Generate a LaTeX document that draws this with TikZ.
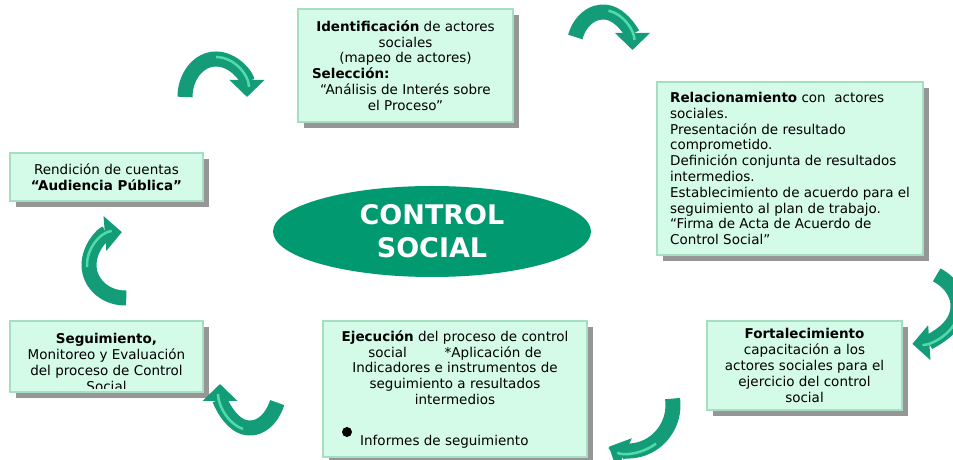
\documentclass[tikz,border=0pt]{standalone}
\usepackage{fontspec}
\setmainfont{DejaVu Sans}
\usetikzlibrary{arrows.meta,shapes.geometric,shadows}
\definecolor{boxfill}{RGB}{212,250,232}
\definecolor{boxline}{RGB}{165,222,195}
\definecolor{shadowgray}{RGB}{150,150,150}
\definecolor{ellgreen}{RGB}{0,153,112}
\definecolor{arrgreen}{RGB}{20,156,120}
\definecolor{arrlight}{RGB}{80,220,170}
\tikzset{
  box/.style={draw=boxline, line width=1.5pt, fill=boxfill, inner sep=0pt,
    general shadow={fill=shadowgray, shadow xshift=6pt, shadow yshift=-6pt},
    font=\fontsize{13.5}{15.8}\selectfont},
  boxtext/.style={inner sep=0pt, font=\fontsize{13.5}{15.8}\selectfont},
  band/.style={draw=arrgreen, line width=15pt, -{Triangle[length=17pt,width=34pt]}},
  bandhl/.style={draw=arrlight, line width=2.5pt, shorten >=10pt},
}
\newcommand\greenarrow[6]{%
  \pgfmathsetmacro\gaxs{#1+#3*cos(#5)}%
  \pgfmathsetmacro\gays{#2+#4*sin(#5)}%
  \pgfmathsetmacro\gamid{(#5+#6)/2}%
  \pgfmathsetmacro\garx{#3+2}%
  \pgfmathsetmacro\gary{#4+2}%
  \pgfmathsetmacro\gaxm{#1+\garx*cos(\gamid)}%
  \pgfmathsetmacro\gaym{#2+\gary*sin(\gamid)}%
  \draw[band] (\gaxs,\gays) arc[start angle=#5,end angle=#6,x radius=#3,y radius=#4];
  \draw[bandhl] (\gaxm,\gaym) arc[start angle=\gamid,end angle=#6,x radius=\garx,y radius=\gary];
}
\begin{document}
\begin{tikzpicture}[x=1pt,y=1pt]
\useasboundingbox (0,0) rectangle (953,460);
\fill[white] (0,0) rectangle (953,460);

\node[box, minimum width=215, minimum height=113, align=center] (b1) at (405.5,394.5)
  {\textbf{Identificación} de actores\\ sociales\\ (mapeo de actores)\\
   \makebox[187pt][l]{\textbf{Selección:}}\\ “Análisis de Interés sobre\\ el Proceso”};

\node[box, minimum width=266, minimum height=173, align=left] (b2) at (790,291.5)
  {\textbf{Relacionamiento} con\ \ actores\\ sociales.\\ Presentación de resultado\\
   comprometido.\\ Definición conjunta de resultados\\ intermedios.\\
   Establecimiento de acuerdo para el\\ seguimiento al plan de trabajo.\\
   “Firma de Acta de Acuerdo de\\ Control Social”};

\node[box, minimum width=193, minimum height=48, align=center] (b3) at (106.5,283)
  {Rendición de cuentas\\ \textbf{“Audiencia Pública”}};

\node[box, minimum width=193, minimum height=71] (b4) at (106.5,103.5) {};
\begin{scope}
  \clip ([yshift=4]b4.south west) rectangle (b4.north east);
  \node[boxtext, align=center, anchor=north] (t4) at ([yshift=-13]b4.north)
    {\textbf{Seguimiento,}\\ Monitoreo y Evaluación\\ del proceso de Control\\ Social};
\end{scope}

\node[box, minimum width=264, minimum height=136] (b5) at (455,71) {};
\node[boxtext, align=center, anchor=north] (t5) at ([yshift=-10]b5.north)
  {\textbf{Ejecución} del proceso de control\\ social\hspace{2.8em}*Aplicación de\\
   Indicadores e instrumentos de\\ seguimiento a resultados\\ intermedios};
\node[boxtext, anchor=base west] (t5b) at (360,14) {Informes de seguimiento};
\node[circle, fill=black, inner sep=0pt, minimum size=10] (dot) at (347,28) {};

\node[box, minimum width=195, minimum height=89, align=center] (b6) at (804.5,94.5)
  {\textbf{Fortalecimiento}\\ capacitación a los\\ actores sociales para el\\
   ejercicio del control\\ social};

\node[ellipse, fill=ellgreen, minimum width=318, minimum height=91, inner sep=0pt,
      text=white, align=center, font=\bfseries\fontsize{27}{33}\selectfont] (cs) at (432,228.5)
  {CONTROL\\SOCIAL};

\greenarrow{216}{363}{31}{38}{180}{0}
\greenarrow{603}{410}{29.5}{38}{160}{0}
\greenarrow{908}{154}{50}{38}{55}{-85}
\greenarrow{628}{55}{45}{46}{8}{-115}
\greenarrow{250}{76}{30}{44}{-25}{-180}
\greenarrow{125}{195}{36}{33}{-88}{-265}
\end{tikzpicture}
\end{document}
